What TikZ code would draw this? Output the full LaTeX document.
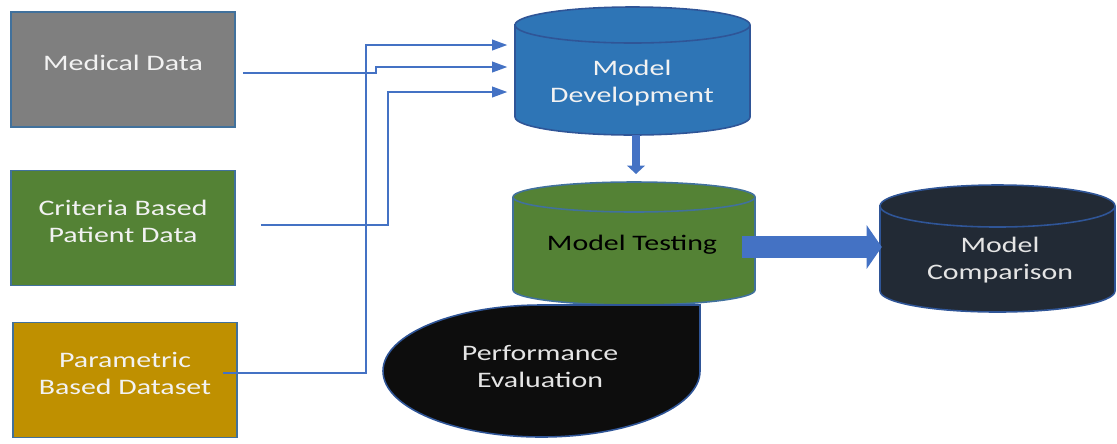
\documentclass[tikz,border=0pt]{standalone}
\usepackage{fontspec}
\setmainfont[FakeStretch=1.35]{Carlito}
\usetikzlibrary{positioning,arrows.meta,calc}
\definecolor{edge}{HTML}{41719C}
\definecolor{feed}{HTML}{4472C4}
\definecolor{slate}{HTML}{7F7F7F}
\definecolor{leaf}{HTML}{548235}
\definecolor{ochre}{HTML}{BF9000}
\definecolor{devblue}{HTML}{2E75B6}
\definecolor{deepedge}{HTML}{2F5597}
\definecolor{navy}{HTML}{222A35}
\definecolor{ink}{HTML}{0D0D0D}

% upright can: [style]{cx}{top y}{bottom y}{rx}{ry}
\newcommand\drum[6][]{%
  \filldraw[#1] ({#2-#5},#3) -- ({#2-#5},#4)
    arc[start angle=180, end angle=360, x radius=#5, y radius=#6]
    -- ({#2+#5},#3)
    arc[start angle=0, end angle=180, x radius=#5, y radius=#6] -- cycle;
  \draw[#1, fill=none] ({#2-#5},#3)
    arc[start angle=180, end angle=360, x radius=#5, y radius=#6];}

\begin{document}
\begin{tikzpicture}[x=0.1mm, y=0.1mm, font=\fontsize{6.3}{7.7}\selectfont,
  src/.style={draw=edge, line width=0.45pt, minimum width=22.4mm, minimum height=11.5mm, align=center, text depth=4pt, text=white!95!black},
  lbl/.style={align=center, minimum width=23.5mm},
  feedline/.style={draw=feed, line width=0.55pt, -{Triangle[width=3pt,length=4.3pt]}}]
  \useasboundingbox (0,0) rectangle (1117,443);

  % input data
  \node[src, fill=slate] (med)  at (123,373.5) {Medical Data};
  \node[src, fill=leaf]  (crit) at (123,215)   {Criteria Based\\Patient Data};
  \node[src, fill=ochre] (par)  at (125,63)    {Parametric\\Based Dataset};

  % model stages
  \drum[fill=devblue, draw=deepedge, line width=0.45pt]{632.5}{418}{326}{117.5}{18}
  \drum[fill=leaf, draw=edge, line width=0.45pt]{634}{246}{153}{121}{15}
  \drum[fill=navy, draw=deepedge, line width=0.45pt]{997.5}{237}{152}{117.5}{21}
  \node[lbl, text=white!95!black] (dev)  at (632,360)  {Model\\Development};
  \node[lbl, text=black]          (test) at (632,198)  {Model Testing};
  \node[lbl, text=white!90!black] (cmp)  at (1000,183) {Model\\Comparison};

  \filldraw[fill=ink, draw=deepedge, line width=0.45pt] (541.5,138) -- (700,138) -- (700,72)
    arc[start angle=0, end angle=-270, x radius=158.5, y radius=66] -- cycle;
  \node[lbl, text=white!90!black] (perf) at (540,76.5) {Performance\\Evaluation};

  % feeds into development
  \draw[feedline] ($(med.east)+(7,-3.5)$) -- ++(133,0) |- ($(dev.west)+(-6.5,16)$);
  \draw[feedline] ($(crit.east)+(25,3)$) -- ++(127,0) |- ($(dev.west)+(-6.5,-9)$);
  \draw[feedline] ($(par.east)+(-15,7)$) -- ++(143,0) |- ($(dev.west)+(-6.5,38)$);

  \draw[draw=feed, line width=2.2pt, -{Triangle[width=5pt,length=2.4pt]}] ($(dev)+(4,-52)$) -- ($(test)+(4,71)$);
  \draw[draw=feed, line width=6.2pt, -{Triangle[width=12.2pt,length=4.3pt]}] ($(test)+(110,-2)$) -- ($(cmp.west)+(0,13)$);
\end{tikzpicture}
\end{document}
